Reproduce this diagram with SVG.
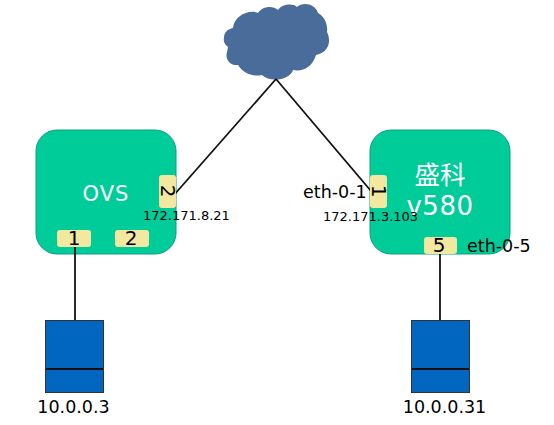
<svg xmlns="http://www.w3.org/2000/svg" width="554" height="425" viewBox="0 0 554 425">
<style>
text{font-family:"DejaVu Sans","Noto Sans CJK SC",sans-serif;fill:#000}
.sw{fill:#00cc99;stroke:#0f9d80;stroke-width:1}
.port{fill:#f3e8a0}
.n{font-size:20px;text-anchor:middle}
.lbl{font-size:17.500px}
.ip{font-size:13px}
.t{fill:#fff;text-anchor:middle}
.host{fill:#0066bf;stroke:#333;stroke-width:1}
.ln{stroke:#111;stroke-width:1.8;fill:none}
</style>
<rect width="554" height="425" fill="#fff"/>
<g id="cloud"><path fill="#4a6c9b" d="M224 38C224 32 228 29 233 28C234 16 249 9 258 13C262 6 273 5 278 10C282 4 293 3 297 7C302 2 315 3 318 13C324 16 328 24 327 32C331 40 330 52 316 55C312 68 302 72 293 70C290 80 270 83 262 75C252 77 243 73 238 65C229 66 225 58 227 52L228 47C225 45 223 41 224 38Z"/></g>
<g id="ovs">
<rect class="sw" x="36" y="130" width="140" height="124" rx="21"/>
<text class="t" x="106" y="201" font-size="21" letter-spacing="1">OVS</text>
</g>
<g id="v580">
<rect class="sw" x="370" y="130" width="140" height="124" rx="21"/>
<text class="t" x="440" y="184" font-size="25.500">盛科</text>
<text class="t" x="440" y="215" font-size="26" letter-spacing="0.5">v580</text>
</g>
<g id="connectors">
<line class="ln" x1="276" y1="79" x2="174" y2="195"/>
<line class="ln" x1="276" y1="79" x2="371" y2="191"/>
<line class="ln" x1="75" y1="246" x2="75" y2="320"/>
<line class="ln" x1="440" y1="254" x2="440" y2="320"/>
</g>
<g id="ovs-port-1"><rect class="port" x="57" y="230" width="34" height="17" rx="3"/><text class="n" x="74" y="245">1</text></g>
<g id="ovs-port-2"><rect class="port" x="115" y="230" width="34" height="17" rx="3"/><text class="n" x="131" y="245">2</text></g>
<g id="ovs-port-uplink"><rect class="port" x="159" y="175" width="17" height="33" rx="3"/><text class="n" transform="translate(161 191) rotate(90)" x="0" y="0">2</text></g>
<g id="v580-port-1"><rect class="port" x="370" y="175" width="17" height="33" rx="3"/><text class="n" transform="translate(372 191) rotate(90)" x="0" y="0">1</text></g>
<g id="v580-port-5"><rect class="port" x="424" y="237" width="33" height="17" rx="3"/><text class="n" x="439" y="252">5</text></g>
<g id="labels">
<text class="ip" x="143" y="220">172.171.8.21</text>
<text class="ip" x="323" y="221">172.171.3.103</text>
<text class="lbl" x="303" y="198">eth-0-1</text>
<text class="lbl" x="467" y="252">eth-0-5</text>
</g>
<g id="host-a">
<rect class="host" x="45.500" y="320.500" width="58" height="72"/>
<line class="ln" x1="46" y1="369" x2="103" y2="369"/>
<text class="lbl" x="73.500" y="413" text-anchor="middle">10.0.0.3</text>
</g>
<g id="host-b">
<rect class="host" x="411.500" y="320.500" width="58" height="72"/>
<line class="ln" x1="412" y1="369" x2="469" y2="369"/>
<text class="lbl" x="444.500" y="413" text-anchor="middle">10.0.0.31</text>
</g>
</svg>
